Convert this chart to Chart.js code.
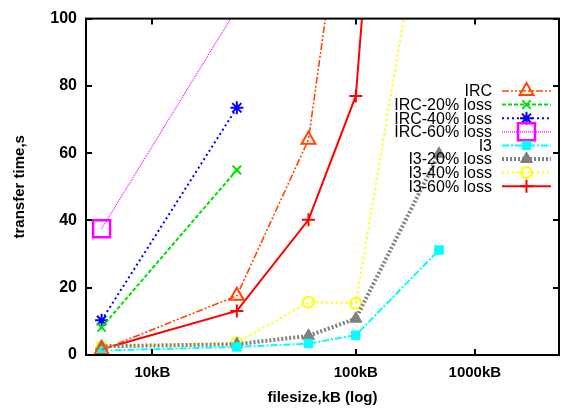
<!DOCTYPE html>
<html>
<head>
<meta charset="utf-8">
<script src="https://cdn.jsdelivr.net/npm/chart.js@4/dist/chart.umd.min.js"></script>
<style>
  html, body { margin: 0; padding: 0; background: #ffffff; }
  #wrap { width: 562px; height: 409px; }
</style>
</head>
<body>
<div id="wrap"><canvas id="c" width="562" height="409"></canvas></div>
<script>
// ---- data ----
const fileSizes = [0.73, 10, 40, 100, 500];          // x positions (log axis)
const seriesNames = ['IRC', 'IRC-20% loss', 'IRC-40% loss', 'IRC-60% loss', 'I3', 'I3-20% loss', 'I3-40% loss', 'I3-60% loss'];
const ircTimes   = [1.5, 17.6, 64, 165];
const irc20Times = [8.2, 55];
const irc40Times = [10.3, 73.5];
const irc60Times = [37.5, 103];
const i3Times    = [1.3, 2.4, 3.4, 5.9, 31.2];
const i320Times  = [2.6, 3.2, 5.7, 10.8, 59.8];
const i340Times  = [2.4, 3.6, 15.7, 15.4, 162];
const i360Times  = [1.7, 13.1, 40.2, 77, 390];
const xTickValues = [1.95, 100, 1000];
const xTickLabels = ['10kB', '100kB', '1000kB'];
const xMin = 0.54, xMax = 5100;
const yMin = 0, yMax = 100, yStep = 20;

const FONT = "'Liberation Sans', Arial, Helvetica, sans-serif";

function pts(vals) { return vals.map((v, i) => ({ x: fileSizes[i], y: v })); }

const styles = [
  { color: '#ff4500', dash: [7, 2, 2, 2, 2, 2], width: 1.6, ps: 'triangle', r: 8, fill: false, pbw: 2 },
  { color: '#00e000', dash: [4, 2], width: 2, ps: 'crossRot', r: 6, fill: false, pbw: 2 },
  { color: '#0000ff', dash: [2, 3], width: 2, ps: 'star', r: 6.5, fill: false, pbw: 2 },
  { color: '#ff00ff', dash: [1, 1], width: 1.2, ps: 'rect', r: 12, fill: false, pbw: 2.5 },
  { color: '#00ffff', dash: [7, 2, 2, 2], width: 2, ps: 'rect', r: 6, fill: true, pbw: 1 },
  { color: '#808080', dash: [2, 2], width: 4, ps: 'triangle', r: 7, fill: true, pbw: 1 },
  { color: '#ffff00', dash: [2, 3], width: 2, ps: 'circle', r: 5.5, fill: false, pbw: 2 },
  { color: '#ff0000', dash: [], width: 2, ps: 'cross', r: 6.5, fill: false, pbw: 2 }
];
const allValues = [ircTimes, irc20Times, irc40Times, irc60Times, i3Times, i320Times, i340Times, i360Times];

const datasets = allValues.map((vals, i) => {
  const s = styles[i];
  return {
    label: seriesNames[i],
    data: pts(vals),
    borderColor: s.color,
    backgroundColor: s.color,
    borderWidth: s.width,
    borderDash: s.dash,
    pointStyle: s.ps,
    pointRadius: s.r,
    pointHoverRadius: s.r,
    pointBorderWidth: s.pbw,
    pointBorderColor: s.color,
    pointBackgroundColor: s.fill ? s.color : 'rgba(0,0,0,0)',
    tension: 0,
    fill: false,
    clip: { left: 12, right: 12, top: 0, bottom: 12 }
  };
});

// frame + inward ticks
const framePlugin = {
  id: 'frame',
  afterDatasetsDraw(chart) {
    const { ctx, chartArea: a, scales } = chart;
    ctx.save();
    ctx.strokeStyle = '#000';
    ctx.lineWidth = 2;
    ctx.setLineDash([]);
    ctx.strokeRect(a.left, a.top, a.right - a.left, a.bottom - a.top);
    ctx.lineWidth = 2;
    const tl = 6;
    scales.y.ticks.forEach(t => {
      const y = Math.round(scales.y.getPixelForValue(t.value));
      ctx.beginPath();
      ctx.moveTo(a.left, y); ctx.lineTo(a.left + tl, y);
      ctx.moveTo(a.right, y); ctx.lineTo(a.right - tl, y);
      ctx.stroke();
    });
    scales.x.ticks.forEach(t => {
      const x = Math.round(scales.x.getPixelForValue(t.value));
      ctx.beginPath();
      ctx.moveTo(x, a.bottom); ctx.lineTo(x, a.bottom - tl);
      ctx.moveTo(x, a.top); ctx.lineTo(x, a.top + tl);
      ctx.stroke();
    });
    ctx.restore();
  }
};

// gnuplot-style key: right-aligned text, sample on its right
const keyPlugin = {
  id: 'key',
  afterDraw(chart) {
    const { ctx } = chart;
    const textRight = 492, lineL = 502, lineR = 551, markX = 526.5;
    const top = 91, step = 13.6;
    ctx.save();
    ctx.font = '16px ' + FONT;
    ctx.textAlign = 'right';
    ctx.textBaseline = 'middle';
    chart.data.datasets.forEach((ds, i) => {
      const y = top + i * step;
      ctx.fillStyle = '#000';
      ctx.fillText(ds.label, textRight, y + 1);
      ctx.strokeStyle = ds.borderColor;
      ctx.lineWidth = ds.borderWidth;
      ctx.setLineDash(ds.borderDash);
      ctx.beginPath();
      ctx.moveTo(lineL, y); ctx.lineTo(lineR, y);
      ctx.stroke();
      ctx.setLineDash([]);
      ctx.lineWidth = ds.pointBorderWidth;
      ctx.fillStyle = ds.pointBackgroundColor;
      Chart.helpers.drawPoint(ctx, { pointStyle: ds.pointStyle, radius: ds.pointRadius, rotation: 0, borderWidth: ds.pointBorderWidth }, markX, y);
    });
    ctx.restore();
  }
};

new Chart(document.getElementById('c'), {
  type: 'line',
  data: { datasets },
  options: {
    responsive: false,
    animation: false,
    devicePixelRatio: 1,
    layout: { autoPadding: false, padding: { left: 0, right: 3, top: 15, bottom: 0 } },
    plugins: { legend: { display: false }, tooltip: { enabled: false } },
    scales: {
      x: {
        type: 'logarithmic',
        min: xMin, max: xMax,
        bounds: 'data',
        afterFit(scale) { scale.height = 54; },
        afterBuildTicks(scale) { scale.ticks = xTickValues.map(v => ({ value: v })); },
        grid: { display: false, drawTicks: false },
        border: { display: false },
        ticks: {
          autoSkip: false, maxRotation: 0, padding: 9, color: '#000',
          font: { family: FONT, size: 15, weight: 'bold' },
          callback: (v, i) => xTickLabels[i]
        },
        title: {
          display: true, text: 'filesize,kB (log)', color: '#000',
          font: { family: FONT, size: 15, weight: 'bold' },
          padding: { top: 0, bottom: 2.5 }
        }
      },
      y: {
        type: 'linear',
        min: yMin, max: yMax,
        afterFit(scale) { scale.width = 86; },
        grid: { display: false, drawTicks: false },
        border: { display: false },
        ticks: {
          stepSize: yStep, padding: 9, color: '#000',
          font: { family: FONT, size: 16, weight: 'bold' }
        },
        title: {
          display: true, text: 'transfer time,s', color: '#000',
          font: { family: FONT, size: 15, weight: 'bold' },
          padding: { top: 11, bottom: 0 }
        }
      }
    }
  },
  plugins: [framePlugin, keyPlugin]
});
</script>
</body>
</html>
